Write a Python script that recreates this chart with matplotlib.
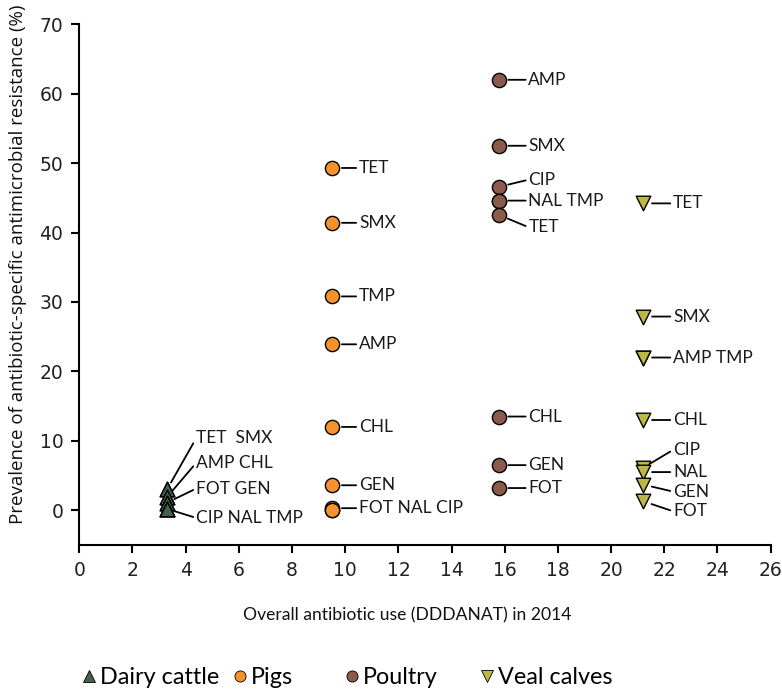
import matplotlib
matplotlib.use("Agg")
import matplotlib.pyplot as plt
from matplotlib.lines import Line2D

# ---------------- data ----------------
dairy_use = 3.3
dairy_abx = ["TET", "SMX", "AMP", "CHL", "FOT", "GEN", "CIP", "NAL", "TMP"]
dairy_res = [3.0, 3.0, 1.9, 1.9, 1.1, 1.1, 0.2, 0.2, 0.2]

pigs_use = 9.5
pigs_abx = ["TET", "SMX", "TMP", "AMP", "CHL", "GEN", "FOT", "NAL", "CIP"]
pigs_res = [49.3, 41.4, 30.8, 23.9, 12.0, 3.6, 0.3, 0.1, 0.0]

poultry_use = 15.8
poultry_abx = ["AMP", "SMX", "CIP", "NAL", "TMP", "TET", "CHL", "GEN", "FOT"]
poultry_res = [62.0, 52.5, 46.6, 44.6, 44.6, 42.5, 13.5, 6.5, 3.2]

veal_use = 21.2
veal_abx = ["TET", "SMX", "AMP", "TMP", "CHL", "CIP", "NAL", "GEN", "FOT"]
veal_res = [44.2, 27.9, 22.0, 22.0, 13.0, 6.1, 5.5, 3.7, 1.3]

series_names = ["Dairy cattle", "Pigs", "Poultry", "Veal calves"]

# label groups: (text, anchor antibiotic)
dairy_groups = [("TET  SMX", "TET"), ("AMP CHL", "AMP"), ("FOT GEN", "FOT"), ("CIP NAL TMP", "CIP")]
pigs_groups = [("TET", "TET"), ("SMX", "SMX"), ("TMP", "TMP"), ("AMP", "AMP"), ("CHL", "CHL"),
               ("GEN", "GEN"), ("FOT NAL CIP", "FOT")]
poultry_groups = [("AMP", "AMP"), ("SMX", "SMX"), ("CIP", "CIP"), ("NAL TMP", "NAL"), ("TET", "TET"),
                  ("CHL", "CHL"), ("GEN", "GEN"), ("FOT", "FOT")]
veal_groups = [("TET", "TET"), ("SMX", "SMX"), ("AMP TMP", "AMP"), ("CHL", "CHL"), ("CIP", "CIP"),
               ("NAL", "NAL"), ("GEN", "GEN"), ("FOT", "FOT")]

# ---------------- style ----------------
c_dairy = "#44614d"
c_pigs = "#f5922e"
c_poultry = "#8a5a4b"
c_veal = "#bdb743"
LABEL_FONT = ["Lato", "DejaVu Sans"]
AXIS_FONT = ["Open Sans", "DejaVu Sans"]

PX = 0.72  # px -> pt at dpi 100

fig = plt.figure(figsize=(7.82, 6.93), dpi=100)
ax = fig.add_axes([0.1014, 0.2136, 0.8841, 0.7514])

ax.scatter([dairy_use] * len(dairy_res), dairy_res, marker="^", s=110, c=c_dairy,
           edgecolors="black", linewidths=1.0, zorder=3)
ax.scatter([pigs_use] * len(pigs_res), pigs_res, marker="o", s=105, c=c_pigs,
           edgecolors="black", linewidths=1.0, zorder=3)
ax.scatter([poultry_use] * len(poultry_res), poultry_res, marker="o", s=105, c=c_poultry,
           edgecolors="black", linewidths=1.0, zorder=3)
ax.scatter([veal_use] * len(veal_res), veal_res, marker="v", s=110, c=c_veal,
           edgecolors="black", linewidths=1.0, zorder=3)


def label(x, abx, res, groups, dx_px, dys_px, shrink_px):
    for (txt, anchor), dy in zip(groups, dys_px):
        y = res[abx.index(anchor)]
        ax.annotate(txt, xy=(x, y), xytext=(dx_px * PX, -dy * PX), textcoords="offset points",
                    ha="left", va="center", fontsize=12.5, family=LABEL_FONT, color="#1a1a1a",
                    arrowprops=dict(arrowstyle="-", color="black", lw=1.3, relpos=(0, 0.5),
                                    shrinkA=0, shrinkB=shrink_px * PX))


label(dairy_use, dairy_abx, dairy_res, dairy_groups, 29, [-51, -34, -14, 9], 8)
label(pigs_use, pigs_abx, pigs_res, pigs_groups, 27, [0] * 7, 10)
label(poultry_use, poultry_abx, poultry_res, poultry_groups, 29, [0, 0, -7, 0, 12, 0, 0, 0], 9)
label(veal_use, veal_abx, veal_res, veal_groups, 30, [0, 0, 0, 0, -18, 0, 7, 10], 9)

ax.set_xlim(0, 26)
ax.set_ylim(-5, 70)
ax.set_xticks(range(0, 27, 2))
ax.set_yticks(range(0, 71, 10))
for s in ["top", "right"]:
    ax.spines[s].set_visible(False)
for s in ["left", "bottom"]:
    ax.spines[s].set_linewidth(1.5)
ax.tick_params(direction="out", length=5.5, width=1.5, labelsize=13.5, pad=6, colors="black")
for t in ax.get_xticklabels() + ax.get_yticklabels():
    t.set_color("#222222")

ax.set_ylabel("Prevalence of antibiotic-specific antimicrobial resistance (%)",
              fontsize=13.5, family=AXIS_FONT, color="#111111")
ax.yaxis.set_label_coords(-0.075, 0.54)
ax.set_xlabel("Overall antibiotic use (DDDANAT) in 2014", fontsize=12.6, family=LABEL_FONT,
              color="#111111")
ax.xaxis.set_label_coords(0.474, -0.12)

# legend entries
handles = [
    Line2D([], [], marker="^", ls="none", markersize=8.5, markerfacecolor=c_dairy, markeredgecolor="black", markeredgewidth=0.6),
    Line2D([], [], marker="o", ls="none", markersize=8, markerfacecolor=c_pigs, markeredgecolor="black", markeredgewidth=0.6),
    Line2D([], [], marker="o", ls="none", markersize=8, markerfacecolor=c_poultry, markeredgecolor="black", markeredgewidth=0.6),
    Line2D([], [], marker="v", ls="none", markersize=8.5, markerfacecolor=c_veal, markeredgecolor="black", markeredgewidth=0.6),
]
leg_x = [82, 233, 345, 480]
for h, name, lx in zip(handles, series_names, leg_x):
    fig.legend([h], [name], loc="center left", bbox_to_anchor=(lx / 782, 1 - 678 / 693),
               frameon=False, handlelength=0.6, handletextpad=0.15, borderpad=0, borderaxespad=0,
               prop={"family": LABEL_FONT, "size": 16.8})

fig.savefig("out.png", dpi=100)
